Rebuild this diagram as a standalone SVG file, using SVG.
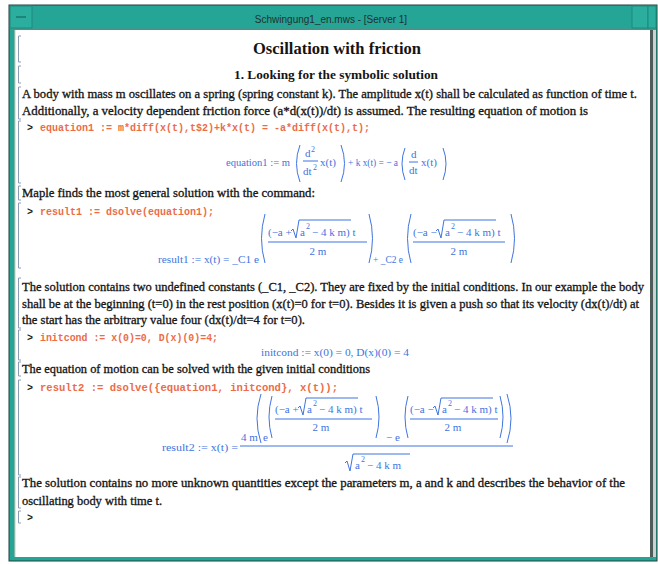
<svg xmlns="http://www.w3.org/2000/svg" width="658" height="564" viewBox="0 0 658 564">
<style>
.frame{fill:#24a596}
.txt{font-family:"Liberation Serif",serif;font-size:12px;fill:#141414;stroke:#141414;stroke-width:0.3}
.h1{font-family:"Liberation Serif",serif;font-size:16px;font-weight:bold;fill:#141414}
.h2{font-family:"Liberation Serif",serif;font-size:13px;font-weight:bold;fill:#141414}
.inp{font-family:"Liberation Mono",monospace;font-size:10px;font-weight:bold;fill:#ec6c48}
.pr{font-family:"Liberation Mono",monospace;font-size:10px;font-weight:bold;fill:#222}
.m{font-family:"Liberation Serif",serif;font-size:11px;fill:#3f74e0}
.ms{font-family:"Liberation Serif",serif;font-size:8px;fill:#3f74e0}
.ml{fill:none;stroke:#3f74e0;stroke-width:1}
.br{fill:none;stroke:#8b9cb4;stroke-width:1}
</style>
<rect x="0" y="0" width="658" height="564" fill="#ffffff"/>
<g id="window">
<rect x="9" y="5" width="648" height="556" fill="#24a596" stroke="#23403c" stroke-width="1"/>
<rect x="15" y="30" width="635" height="527" fill="#ffffff"/>
<line x1="10" y1="29" x2="656" y2="29" stroke="#5d8a84" stroke-width="1"/>
<line x1="15" y1="30" x2="15" y2="557" stroke="#e2c2b4" stroke-width="1"/>
<rect x="650" y="30" width="3" height="527" fill="#4f5d5a"/>
<rect x="653" y="30" width="3" height="527" fill="#c9d2ce"/>
<rect x="10" y="6" width="22" height="22" fill="#2cae9f" stroke="#1c8a7d" stroke-width="1"/>
<line x1="16" y1="17" x2="26" y2="17" stroke="#0f5e55" stroke-width="1"/>
<rect x="632" y="6" width="16" height="22" fill="#2cae9f" stroke="#1c8a7d" stroke-width="1"/>
<rect x="648" y="6" width="8" height="22" fill="#2cae9f" stroke="#1c8a7d" stroke-width="1"/>
<text x="331" y="23" text-anchor="middle" font-family="Liberation Sans, sans-serif" font-size="10" fill="#23302f">Schwingung1_en.mws - [Server 1]</text>
</g>
<g id="brackets">
<path class="br" d="M21 36 H18.5 V62 H21"/>
<path class="br" d="M21 66 H18.5 V83 H21"/>
<path class="br" d="M21 87 H18.5 V119 H21"/>
<path class="br" d="M21 121 H18.5 V183 H21"/>
<path class="br" d="M21 186 H18.5 V200 H21"/>
<path class="br" d="M21 203 H18.5 V268 H21"/>
<path class="br" d="M21 278 H18.5 V328 H21"/>
<path class="br" d="M21 330 H18.5 V360 H21"/>
<path class="br" d="M21 362 H18.5 V376 H21"/>
<path class="br" d="M21 380 H18.5 V475 H21"/>
<path class="br" d="M21 477 H18.5 V508 H21"/>
<path class="br" d="M21 511 H18.5 V523 H21"/>
</g>
<g id="headings">
<text class="h1" x="337" y="54" text-anchor="middle" textLength="168" lengthAdjust="spacingAndGlyphs">Oscillation with friction</text>
<text class="h2" x="336" y="79" text-anchor="middle" textLength="204" lengthAdjust="spacingAndGlyphs">1. Looking for the symbolic solution</text>
</g>
<g id="para1">
<text class="txt" x="22" y="98" textLength="615" lengthAdjust="spacingAndGlyphs">A body with mass m oscillates on a spring (spring constant k). The amplitude x(t) shall be calculated as function of time t.</text>
<text class="txt" x="22" y="115" textLength="566" lengthAdjust="spacingAndGlyphs">Additionally, a velocity dependent friction force (a*d(x(t))/dt) is assumed. The resulting equation of motion is</text>
</g>
<g id="input1">
<text class="pr" x="27" y="131">&gt;</text>
<text class="inp" x="40" y="131" textLength="330" lengthAdjust="spacingAndGlyphs">equation1 := m*diff(x(t),t$2)+k*x(t) = -a*diff(x(t),t);</text>
</g>
<g id="output1">
<text class="m" x="226" y="166" textLength="64" lengthAdjust="spacingAndGlyphs">equation1 := m</text>
<path class="ml" d="M300 145 Q293 163.5 300 182"/>
<text class="m" x="305" y="157">d</text><text class="ms" x="311" y="152">2</text>
<line class="ml" x1="303" y1="161" x2="318" y2="161"/>
<text class="m" x="303" y="175">dt</text><text class="ms" x="313" y="170">2</text>
<text class="m" x="320" y="166">x(t)</text>
<path class="ml" d="M341 145 Q348 163.5 341 182"/>
<text class="m" x="348" y="166" textLength="50" lengthAdjust="spacingAndGlyphs">+ k x(t) = − a</text>
<path class="ml" d="M405 148 Q399 163.5 405 180"/>
<text class="m" x="411" y="158">d</text>
<line class="ml" x1="409" y1="162" x2="418" y2="162"/>
<text class="m" x="409" y="174">dt</text>
<text class="m" x="421" y="166">x(t)</text>
<path class="ml" d="M443 148 Q449 163.5 443 180"/>
</g>
<g id="para2">
<text class="txt" x="22" y="197" textLength="293" lengthAdjust="spacingAndGlyphs">Maple finds the most general solution with the command:</text>
</g>
<g id="input2">
<text class="pr" x="27" y="215">&gt;</text>
<text class="inp" x="40" y="215" textLength="174" lengthAdjust="spacingAndGlyphs">result1 := dsolve(equation1);</text>
</g>
<g id="output2">
<text class="m" x="158" y="263" textLength="101" lengthAdjust="spacingAndGlyphs">result1 := x(t) = _C1 e</text>
<path class="ml" d="M265 214 Q258 238.5 265 263"/>
<text class="m" x="268" y="236">(−a +</text>
<path class="ml" d="M291 231 L293 229 L296 238 L299 220 H351"/>
<text class="m" x="300" y="236">a</text><text class="ms" x="306" y="229">2</text>
<text class="m" x="312" y="236">− 4 k m) t</text>
<line class="ml" x1="268" y1="242" x2="367" y2="242"/>
<text class="m" x="318" y="255" text-anchor="middle">2 m</text>
<path class="ml" d="M369 214 Q376 238.5 369 263"/>
<text class="m" x="373" y="263" textLength="30" lengthAdjust="spacingAndGlyphs">+ _C2 e</text>
<path class="ml" d="M411 214 Q404 238.5 411 263"/>
<text class="m" x="413" y="236">(−a −</text>
<path class="ml" d="M436 231 L438 229 L441 238 L444 220 H496"/>
<text class="m" x="445" y="236">a</text><text class="ms" x="451" y="229">2</text>
<text class="m" x="457" y="236">− 4 k m) t</text>
<line class="ml" x1="413" y1="242" x2="505" y2="242"/>
<text class="m" x="459" y="255" text-anchor="middle">2 m</text>
<path class="ml" d="M511 214 Q518 238.5 511 263"/>
</g>
<g id="para3">
<text class="txt" x="22" y="291" textLength="622" lengthAdjust="spacingAndGlyphs">The solution contains two undefined constants (_C1, _C2). They are fixed by the initial conditions. In our example the body</text>
<text class="txt" x="22" y="308" textLength="617" lengthAdjust="spacingAndGlyphs">shall be at the beginning (t=0) in the rest position (x(t)=0 for t=0). Besides it is given a push so that its velocity (dx(t)/dt) at</text>
<text class="txt" x="22" y="324" textLength="283" lengthAdjust="spacingAndGlyphs">the start has the arbitrary value four (dx(t)/dt=4 for t=0).</text>
</g>
<g id="input3">
<text class="pr" x="27" y="341">&gt;</text>
<text class="inp" x="40" y="341" textLength="178" lengthAdjust="spacingAndGlyphs">initcond := x(0)=0, D(x)(0)=4;</text>
</g>
<g id="output3">
<text class="m" x="335" y="356" text-anchor="middle" textLength="148" lengthAdjust="spacingAndGlyphs">initcond := x(0) = 0, D(x)(0) = 4</text>
</g>
<g id="para4">
<text class="txt" x="22" y="373" textLength="348" lengthAdjust="spacingAndGlyphs">The equation of motion can be solved with the given initial conditions</text>
</g>
<g id="input4">
<text class="pr" x="27" y="391">&gt;</text>
<text class="inp" x="40" y="391" textLength="298" lengthAdjust="spacingAndGlyphs">result2 := dsolve({equation1, initcond}, x(t));</text>
</g>
<g id="output4">
<text class="m" x="162" y="451" textLength="76" lengthAdjust="spacingAndGlyphs">result2 := x(t) =</text>
<text class="m" x="241" y="441">4 m</text>
<path class="ml" d="M261 394 Q253 418.5 261 443"/>
<text class="m" x="263" y="441">e</text>
<path class="ml" d="M272 396 Q266 417 272 438"/>
<text class="m" x="275" y="413">(−a +</text>
<path class="ml" d="M298 408 L300 406 L303 415 L306 398 H358"/>
<text class="m" x="307" y="413">a</text><text class="ms" x="313" y="406">2</text>
<text class="m" x="319" y="413">− 4 k m) t</text>
<line class="ml" x1="275" y1="419" x2="372" y2="419"/>
<text class="m" x="321" y="431" text-anchor="middle">2 m</text>
<path class="ml" d="M376 396 Q382 417 376 438"/>
<text class="m" x="386" y="441">− e</text>
<path class="ml" d="M408 396 Q402 417 408 438"/>
<text class="m" x="410" y="413">(−a −</text>
<path class="ml" d="M433 408 L435 406 L438 415 L441 398 H493"/>
<text class="m" x="442" y="413">a</text><text class="ms" x="448" y="406">2</text>
<text class="m" x="454" y="413">− 4 k m) t</text>
<line class="ml" x1="410" y1="419" x2="498" y2="419"/>
<text class="m" x="453" y="431" text-anchor="middle">2 m</text>
<path class="ml" d="M500 396 Q506 417 500 438"/>
<path class="ml" d="M507 394 Q515 418.5 507 443"/>
<line class="ml" x1="240" y1="446" x2="513" y2="446"/>
<path class="ml" d="M345 463 L347 461 L350 471 L353 454 H410"/>
<text class="m" x="355" y="469">a</text><text class="ms" x="361" y="462">2</text>
<text class="m" x="367" y="469">− 4 k m</text>
</g>
<g id="para5">
<text class="txt" x="22" y="487" textLength="603" lengthAdjust="spacingAndGlyphs">The solution contains no more unknown quantities except the parameters m, a and k and describes the behavior of the</text>
<text class="txt" x="22" y="505" textLength="140" lengthAdjust="spacingAndGlyphs">oscillating body with time t.</text>
</g>
<g id="input5">
<text class="pr" x="27" y="521">&gt;</text>
</g>
</svg>
